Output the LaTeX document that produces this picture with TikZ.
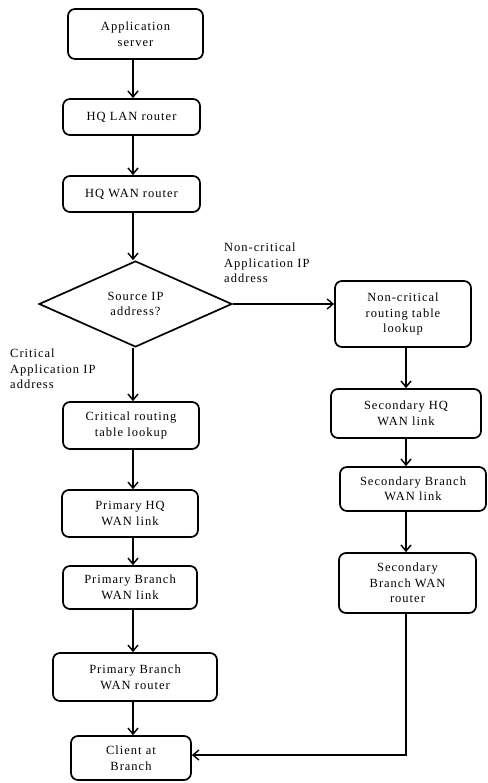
\documentclass[tikz,border=0pt]{standalone}
\usepackage{fontspec}
\setmainfont[LetterSpace=8]{Liberation Serif}
\usetikzlibrary{shapes.geometric,arrows.meta}
\begin{document}
\begin{tikzpicture}[x=1pt,y=-1pt,
  font=\fontsize{12.5}{15.5}\selectfont,
  box/.style={draw,rounded corners=7pt,line width=1.7pt,align=center,inner sep=0pt},
  thick arrow/.style={line width=2.5pt,-{Straight Barb[length=6pt,width=10pt,line width=1.5pt]}},
  thin arrow/.style={line width=1.5pt,-{Straight Barb[length=6pt,width=10pt,line width=1.4pt]}},
  lbl/.style={align=left,inner sep=0pt,anchor=north west}]
\useasboundingbox (0,0) rectangle (487,783);
\coordinate (colL) at (133,0);
\coordinate (colR) at (406,0);
% left column
\node[box,minimum width=135pt,minimum height=50pt] (app) at (135.5,34) {Application\\server};
\node[box,minimum width=137pt,minimum height=36pt] (lan) at (131.5,117) {HQ LAN router};
\node[box,minimum width=137pt,minimum height=36pt] (wan) at (131.5,194) {HQ WAN router};
\node[draw,diamond,line width=1.7pt,shape aspect=2.2,inner sep=0pt,minimum width=193pt,minimum height=86pt,align=center] (dec) at (135.5,304) {Source IP\\address?};
\node[box,minimum width=136pt,minimum height=47pt] (crit) at (131,425.5) {Critical routing\\table lookup};
\node[box,minimum width=136pt,minimum height=47pt] (phq) at (130,513.5) {Primary HQ\\WAN link};
\node[box,minimum width=134pt,minimum height=43pt] (pbl) at (130,587.5) {Primary Branch\\WAN link};
\node[box,minimum width=164pt,minimum height=48pt] (pbr) at (135,677) {Primary Branch\\WAN router};
\node[box,minimum width=120pt,minimum height=44pt] (cli) at (131,758) {Client at\\Branch};
% right column
\node[box,minimum width=136pt,minimum height=66pt] (nc) at (403,314) {Non-critical\\routing table\\lookup};
\node[box,minimum width=150pt,minimum height=49pt] (shq) at (406,413.5) {Secondary HQ\\WAN link};
\node[box,minimum width=146pt,minimum height=44pt] (sbl) at (413,489) {Secondary Branch\\WAN link};
\node[box,minimum width=137pt,minimum height=60pt] (sbr) at (407.5,583) {Secondary\\Branch WAN\\router};
% labels
\node[lbl] (lnc) at (224,243) {Non-critical\\Application IP\\address};
\node[lbl] (lc) at (10,349) {Critical\\Application IP\\address};
% connectors
\draw[thick arrow] (app.south -| colL) -- (lan.north -| colL);
\draw[thick arrow] (lan.south -| colL) -- (wan.north -| colL);
\draw[thin arrow] (wan.south -| colL) -- (dec.north -| colL);
\draw[thick arrow] (dec.south -| colL) -- (crit.north -| colL);
\draw[thin arrow] (crit.south -| colL) -- (phq.north -| colL);
\draw[thin arrow] (phq.south -| colL) -- (pbl.north -| colL);
\draw[thin arrow] (pbl.south -| colL) -- (pbr.north -| colL);
\draw[thin arrow] (pbr.south -| colL) -- (cli.north -| colL);
\draw[thin arrow] (dec.east) -- (nc.west |- dec.east);
\draw[thick arrow] (nc.south -| colR) -- (shq.north -| colR);
\draw[thick arrow] (shq.south -| colR) -- (sbl.north -| colR);
\draw[thick arrow] (sbl.south -| colR) -- (sbr.north -| colR);
\draw[line width=1.2pt,-{Straight Barb[length=6pt,width=10pt,line width=1.4pt]}] (sbr.south -| colR) |- ([yshift=3pt]cli.east);
\end{tikzpicture}
\end{document}
